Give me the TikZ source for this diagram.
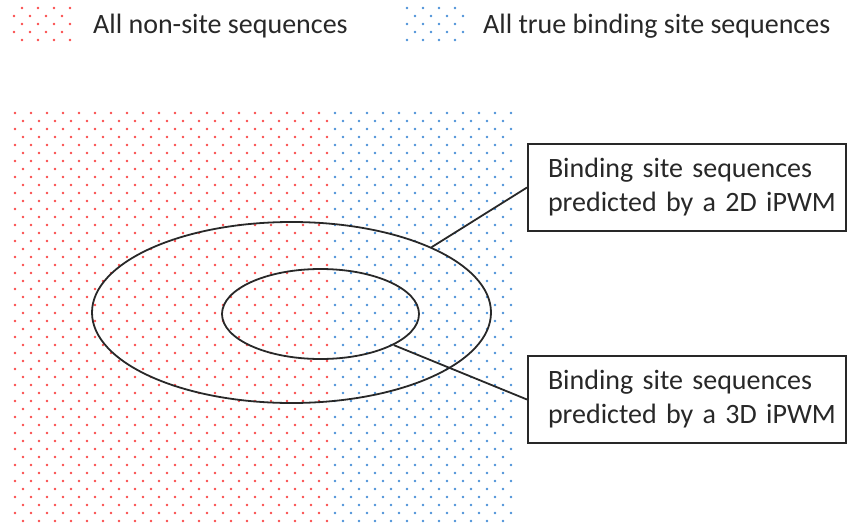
\documentclass[tikz,border=0pt]{standalone}
\usepackage{fontspec}
\setmainfont{Carlito}
\usetikzlibrary{shapes.geometric}
\definecolor{dotred}{RGB}{250,75,75}
\definecolor{dotblue}{RGB}{75,145,215}
\definecolor{ink}{RGB}{40,40,40}
\tikzset{
  rdot/.style={fill=dotred},
  bdot/.style={fill=dotblue},
  oval/.style={ellipse, draw=ink, line width=1.8pt, inner sep=0pt},
  labelbox/.style={draw=ink, line width=2pt, fill=white, minimum width=318pt, minimum height=87pt,
    text width=298pt, inner xsep=10pt, align=left, font=\fontsize{28}{34}\selectfont, text=ink},
  legendtext/.style={anchor=base west, font=\fontsize{28}{34}\selectfont, text=ink, inner sep=0pt},
  connector/.style={draw=ink, line width=1.8pt}
}
\begin{document}
\begin{tikzpicture}[x=1pt,y=-1pt]
\useasboundingbox (0,0) rectangle (848,522);
% legend dot swatches
\foreach \y in {8,24,40}{
  \foreach \x in {22,38,54,70} \fill[rdot] (\x,\y) circle (1.45pt);
  \foreach \x in {407,423,439,455} \fill[bdot] (\x,\y) circle (1.45pt);
}
\foreach \y in {16,32}{
  \foreach \x in {14,30,46,62} \fill[rdot] (\x,\y) circle (1.45pt);
  \foreach \x in {415,431,447,463} \fill[bdot] (\x,\y) circle (1.45pt);
}
\node[legendtext] (lgred) at (93,33) {All non-site sequences};
\node[legendtext] (lgblue) at (483,33) {All true binding site sequences};
% main dotted field
\foreach \k in {0,...,25}{
  \foreach \x in {15,31,...,319} \fill[rdot] (\x,{113+16*\k}) circle (1.45pt);
  \foreach \x in {335,351,...,511} \fill[bdot] (\x,{113+16*\k}) circle (1.45pt);
  \foreach \x in {23,39,...,327} \fill[rdot] (\x,{121+16*\k}) circle (1.45pt);
  \foreach \x in {343,359,...,503} \fill[bdot] (\x,{121+16*\k}) circle (1.45pt);
}
% ellipses
\node[oval, minimum width=399pt, minimum height=181pt] (outer) at (291.5,312.5) {};
\node[oval, minimum width=197pt, minimum height=90pt] (inner) at (320.5,314) {};
% boxes
\node[labelbox] (box2d) at (687,187.5) {\hspace*{10pt}Binding site sequences\\\hspace*{10pt}predicted by a 2D iPWM};
\node[labelbox] (box3d) at (687,399.5) {\hspace*{10pt}Binding site sequences\\\hspace*{10pt}predicted by a 3D iPWM};
% connectors
\draw[connector] (outer.25) -- (box2d.west);
\draw[connector] (inner.-23.4) -- (box3d.west);
\end{tikzpicture}
\end{document}
